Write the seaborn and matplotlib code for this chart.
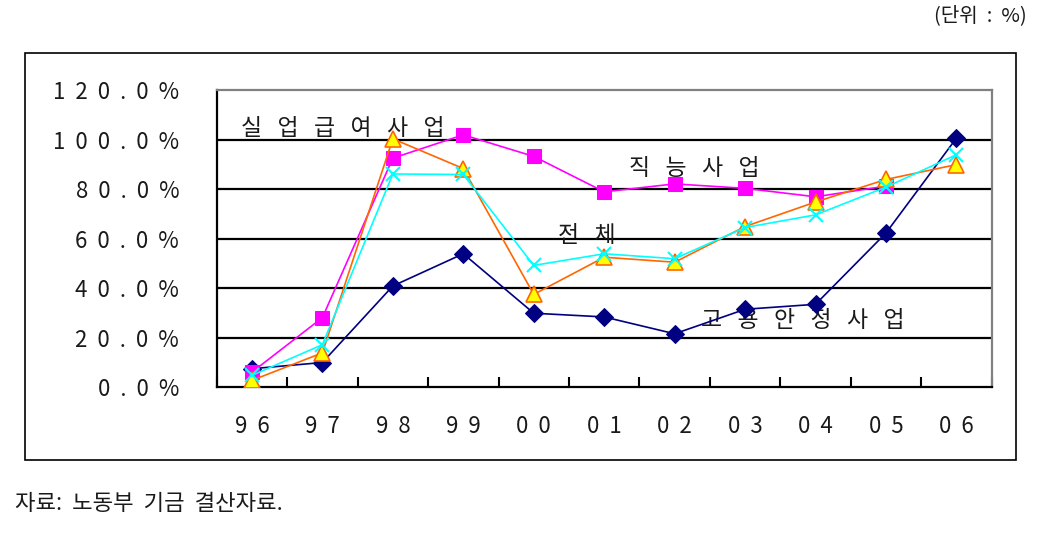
import numpy as np
import pandas as pd
import matplotlib
matplotlib.use("Agg")
import matplotlib.pyplot as plt
from matplotlib.patches import Rectangle
import seaborn as sns

# ---- data ----
years = ['96', '97', '98', '99', '00', '01', '02', '03', '04', '05', '06']
goyong = [7.5, 10.0, 40.9, 53.9, 29.9, 28.4, 21.6, 31.5, 33.5, 62.3, 100.6]      # 고용안정사업
jikneung = [6.1, 28.1, 92.5, 101.9, 93.2, 78.9, 82.1, 80.3, 76.9, 81.2, np.nan]  # 직능사업
silup = [2.8, 13.9, 100.3, 88.3, 37.5, 52.5, 50.5, 64.9, 74.8, 83.9, 89.9]       # 실업급여사업
total = [4.8, 17.2, 86.1, 85.9, 49.2, 53.9, 51.9, 64.5, 69.6, 80.8, 93.9]        # 전체
yticks = [0, 20, 40, 60, 80, 100, 120]
ytick_labels = ['0.0%', '20.0%', '40.0%', '60.0%', '80.0%', '100.0%', '120.0%']

sns.set_theme(style="white")
plt.rcParams['font.family'] = ['Noto Sans CJK KR', 'DejaVu Sans']

W, H = 1045, 535
fig = plt.figure(figsize=(W / 100, H / 100), dpi=100)
ax = fig.add_axes([216.7 / W, 1 - 387.3 / H, (991.7 - 216.7) / W, (387.3 - 90) / H])

x = np.arange(len(years))
df = pd.DataFrame({'x': x, 'goyong': goyong, 'jikneung': jikneung,
                   'silup': silup, 'total': total})

sns.lineplot(data=df, x='x', y='goyong', ax=ax, color='#000080', lw=1.2,
             marker='D', markersize=9, markeredgecolor='#000080', zorder=3)
sns.lineplot(data=df, x='x', y='jikneung', ax=ax, color='#FF00FF', lw=1.2,
             marker='s', markersize=10, markeredgecolor='#FF00FF', zorder=4)
sns.lineplot(data=df, x='x', y='silup', ax=ax, color='#FF6600', lw=1.2,
             marker='^', markersize=11, markerfacecolor='#FFFF00',
             markeredgecolor='#FF6600', markeredgewidth=1.2, zorder=5)
sns.lineplot(data=df, x='x', y='total', ax=ax, color='#00FFFF', lw=1.2,
             marker='x', markersize=10, markeredgecolor='#00FFFF',
             markeredgewidth=1.5, zorder=6)

ax.set_xlim(-0.5, len(years) - 0.5)
ax.set_ylim(0, 120)
ax.set_xlabel('')
ax.set_ylabel('')

def spaced(s, n=2):
    return (' ' * n).join(list(s))

# gridlines
for v in yticks[1:-1]:
    ax.axhline(v, color='black', lw=1.6, zorder=1)

ax.set_yticks(yticks)
ax.set_yticklabels([spaced(t) for t in ytick_labels], fontsize=16, color='#1a1a1a')
ax.tick_params(axis='y', direction='in', length=9, width=1.5, color='black', pad=27)

ax.set_xticks(x)
ax.set_xticklabels([spaced(t) for t in years], fontsize=16, color='#1a1a1a')
ax.set_xticks(np.arange(-0.5, len(years)), minor=True)
ax.tick_params(axis='x', which='major', length=0, pad=20)
ax.tick_params(axis='x', which='minor', direction='in', length=7, width=1.5,
               color='black', bottom=True)

for side in ['left', 'bottom']:
    ax.spines[side].set_color('black')
    ax.spines[side].set_linewidth(1.6)
for side in ['top', 'right']:
    ax.spines[side].set_color('#808080')
    ax.spines[side].set_linewidth(1.6)

# series labels
lab_kw = dict(fontsize=16.5, color='#1a1a1a', va='center', ha='left', zorder=2)
ax.text(-0.15, 104.3, spaced('실업급여사업', 3), **lab_kw)
ax.text(5.35, 88.5, spaced('직능사업', 3), **lab_kw)
ax.text(4.34, 61.1, spaced('전체', 3), **lab_kw)
ax.text(6.37, 26.8, spaced('고용안정사업', 3), **lab_kw)

# outer frame
fig.add_artist(Rectangle((25.3 / W, 1 - 460 / H), (1016.3 - 25.3) / W, (460 - 53.3) / H,
                         transform=fig.transFigure, fill=False, ec='black', lw=1.2))

fig.text(1027 / W, 1 - 16 / H, '(단위  :  %)', ha='right', va='center', fontsize=14.5,
         color='#1a1a1a')
fig.text(15 / W, 1 - 503 / H, '자료:  노동부  기금  결산자료.', ha='left', va='center',
         fontsize=16, color='#1a1a1a')

fig.savefig('out.png', dpi=100)
